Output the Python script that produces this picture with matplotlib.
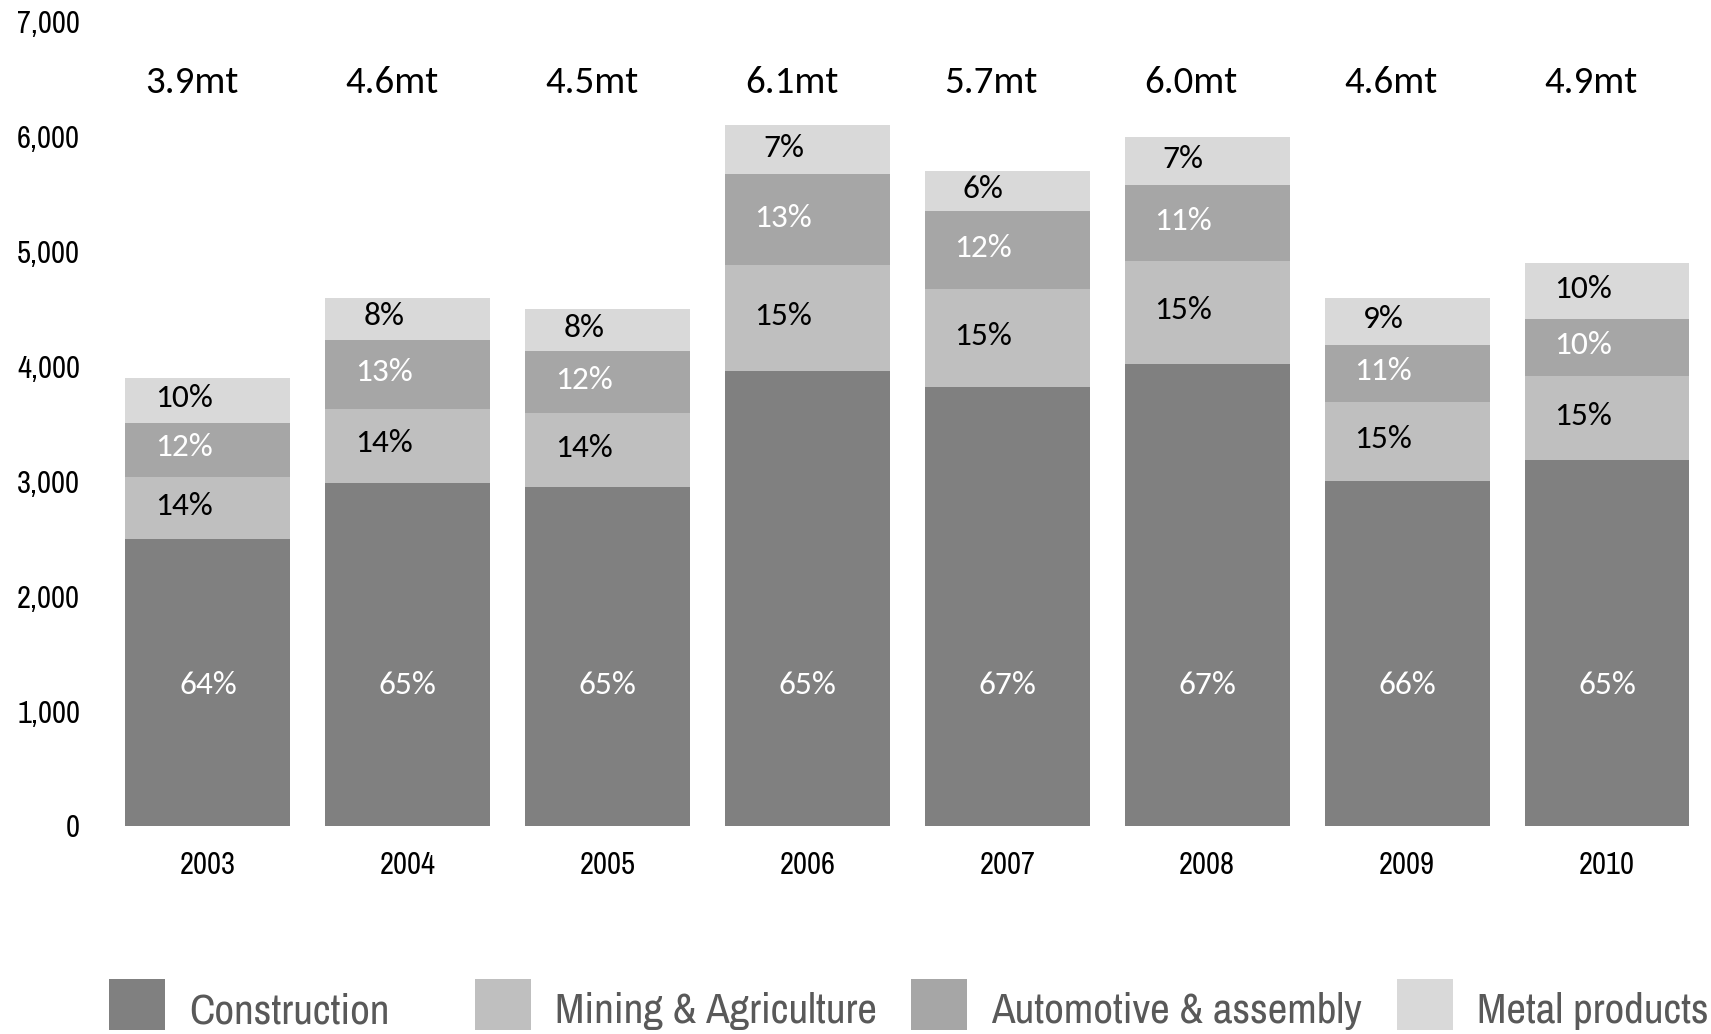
import matplotlib
matplotlib.use("Agg")
import matplotlib.pyplot as plt
from matplotlib.patches import Rectangle

years = ["2003", "2004", "2005", "2006", "2007", "2008", "2009", "2010"]
totals_mt = [3.9, 4.6, 4.5, 6.1, 5.7, 6.0, 4.6, 4.9]
sectors = ["Construction", "Mining & Agriculture", "Automotive & assembly", "Metal products"]
construction_pct = [64, 65, 65, 65, 67, 67, 66, 65]
mining_pct = [14, 14, 14, 15, 15, 15, 15, 15]
automotive_pct = [12, 13, 12, 13, 12, 11, 11, 10]
metal_pct = [10, 8, 8, 7, 6, 7, 9, 10]

colors = ["#808080", "#bfbfbf", "#a6a6a6", "#d9d9d9"]
text_colors = ["white", "black", "white", "black"]

narrow = ["Archivo Narrow", "DejaVu Sans"]
label_font = ["Carlito", "DejaVu Sans"]

fig = plt.figure(figsize=(17.11, 10.34), dpi=100)
ax = fig.add_axes([0.0631, 0.2012, 0.9345, 0.7776])

x = list(range(len(years)))
shares = [construction_pct, mining_pct, automotive_pct, metal_pct]
# rounded shares don't always add to 100, so scale each column to its total
pct_sums = [sum(col) for col in zip(*shares)]
bottoms = [0.0] * len(years)
for k, pct in enumerate(shares):
    heights = [t * 1000 * p / s for t, p, s in zip(totals_mt, pct, pct_sums)]
    ax.bar(x, heights, width=0.825, bottom=bottoms, color=colors[k], linewidth=0)
    for i in x:
        if k == 0:
            xl, yl = i, 1225
        else:
            xl, yl = i - 0.12, bottoms[i] + heights[i] / 2 + 20
        ax.text(xl, yl, f"{pct[i]}%", ha="center", va="center", fontsize=24,
                color=text_colors[k], family=label_font)
    bottoms = [b + h for b, h in zip(bottoms, heights)]

# total tonnage above each column
for i, t in zip(x, totals_mt):
    ax.text(i - 0.08, 6470, f"{t:.1f}mt", ha="center", va="center", fontsize=28,
            color="black", family=label_font)

ax.set_xlim(-0.5, len(years) - 0.5)
ax.set_ylim(0, 7000)
ax.set_yticks(range(0, 7001, 1000))
ax.set_yticklabels([f"{v:,}" for v in range(0, 7001, 1000)])
ax.set_xticks(x)
ax.set_xticklabels(years)
for lab in ax.get_xticklabels() + ax.get_yticklabels():
    lab.set_family(narrow)
    lab.set_fontsize(22)
ax.tick_params(axis="both", length=0)
ax.tick_params(axis="y", pad=20)
ax.tick_params(axis="x", pad=18)
for s in ax.spines.values():
    s.set_visible(False)

# legend row along the bottom edge
W, H = 1711.0, 1034.0
legend_x = [109, 475, 911, 1397]
for k, name in enumerate(sectors):
    fig.patches.append(Rectangle((legend_x[k] / W, 1 - 1030 / H), 56 / W, 51 / H,
                                 transform=fig.transFigure, facecolor=colors[k],
                                 linewidth=0))
    fig.text((legend_x[k] + 80) / W, 1 - 1011 / H, name, ha="left", va="center",
             fontsize=31, color="#595959", family=narrow)

fig.savefig("out.png", dpi=100)
